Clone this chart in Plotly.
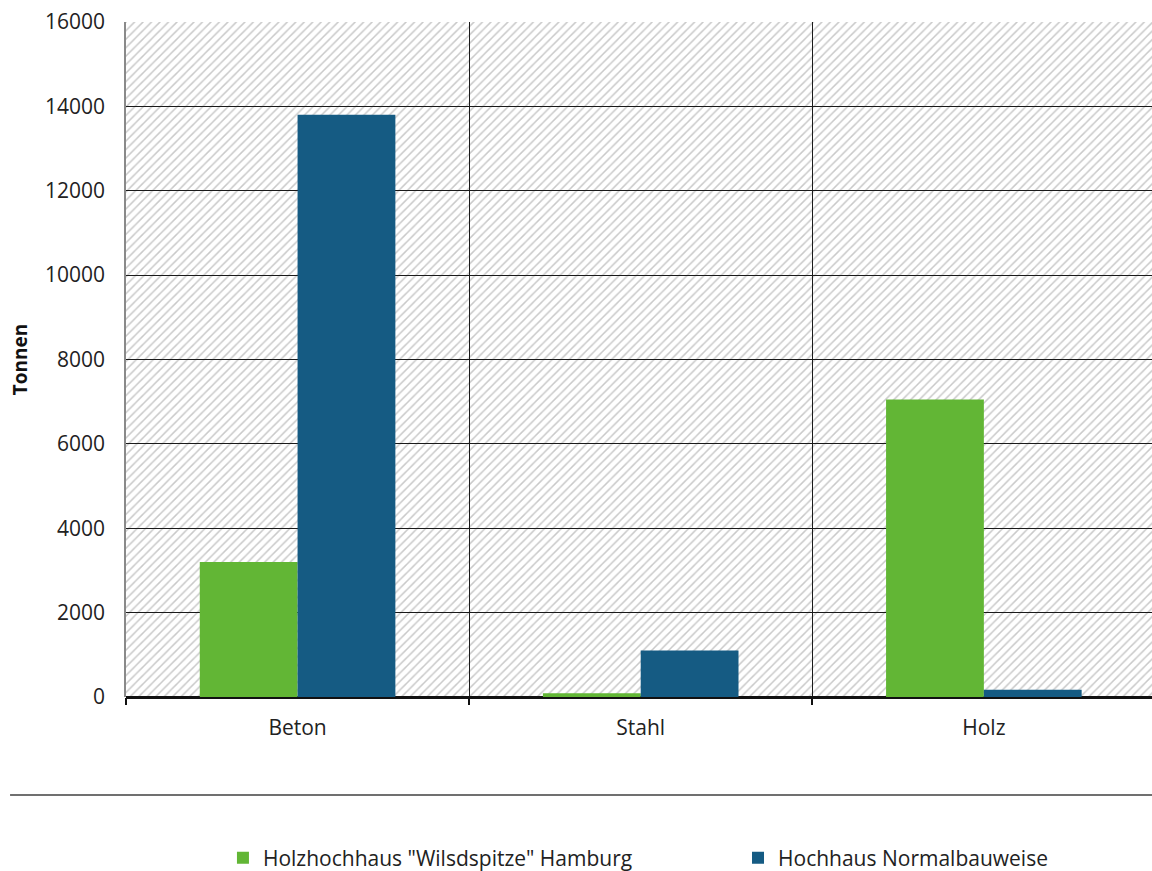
import plotly.graph_objects as go

categories = ["Beton", "Stahl", "Holz"]
series_names = ['Holzhochhaus "Wilsdspitze" Hamburg', "Hochhaus Normalbauweise"]
wilds_values = [3200, 90, 7050]
normal_values = [13800, 1100, 170]
y_max = 16000
y_title = "Tonnen"

GREEN = "#62b635"
BLUE = "#155b83"
FONT = "Open Sans"

fig = go.Figure()

# hatched plot background (pattern-filled bar on its own hidden subplot, drawn first)
fig.add_trace(go.Bar(
    x=[0.5], y=[1], width=[1], xaxis="x", yaxis="y",
    marker=dict(color="rgba(0,0,0,0)", line=dict(width=0),
                pattern=dict(shape="/", fgcolor="#c9c9c9", size=6, solidity=0.25,
                             fillmode="replace")),
    showlegend=False, hoverinfo="skip",
))

fig.add_trace(go.Bar(name=series_names[0], x=categories, y=wilds_values,
                     marker=dict(color=GREEN, line=dict(width=0)),
                     xaxis="x2", yaxis="y2", legend="legend"))
fig.add_trace(go.Bar(name=series_names[1], x=categories, y=normal_values,
                     marker=dict(color=BLUE, line=dict(width=0)),
                     xaxis="x2", yaxis="y2", legend="legend2"))

fig.update_layout(
    width=1152, height=871,
    margin=dict(l=126, r=0, t=22, b=174, autoexpand=False),
    paper_bgcolor="white", plot_bgcolor="rgba(0,0,0,0)",
    barmode="group", bargap=0.43, bargroupgap=0,
    font=dict(family=FONT, size=21, color="#222222"),
    xaxis=dict(domain=[0, 1], range=[0, 1], visible=False, showgrid=False, zeroline=False),
    yaxis=dict(domain=[0, 1], range=[0, 1], visible=False, showgrid=False, zeroline=False),
    xaxis2=dict(domain=[0, 1], anchor="y2", type="category", tickson="boundaries",
                showgrid=True, gridcolor="#1a1a1a", gridwidth=1,
                ticks="outside", ticklen=7, tickwidth=1.5, tickcolor="#111111",
                ticklabelstandoff=16,
                showline=False, tickfont=dict(size=21, family=FONT, color="#222222"),
                range=[-0.5, 2.49]),
    yaxis2=dict(domain=[0, 1], anchor="x2", range=[0, y_max], dtick=2000, tickformat="d",
                showgrid=True, gridcolor="#1a1a1a", gridwidth=1,
                zeroline=True, zerolinecolor="#111111", zerolinewidth=2.5,
                showline=True, linecolor="#8a8a8a", linewidth=1.5,
                ticks="", ticklabelstandoff=15,
                tickfont=dict(size=21, family=FONT, color="#222222"),
                title=dict(text="<b>" + y_title + "</b>", font=dict(size=19, family=FONT, color="#111111"),
                           standoff=12)),
    legend=dict(orientation="h", x=0.0945, xanchor="left",
                yref="container", y=0.0149, yanchor="middle",
                font=dict(size=21, family=FONT, color="#222222")),
    legend2=dict(orientation="h", x=0.5965, xanchor="left",
                 yref="container", y=0.0149, yanchor="middle",
                 font=dict(size=21, family=FONT, color="#222222")),
    shapes=[dict(type="line", xref="paper", yref="paper", x0=-0.113, x1=1.0,
                 y0=-0.145, y1=-0.145, line=dict(color="#707070", width=2))],
)

fig.write_html("out.html")
